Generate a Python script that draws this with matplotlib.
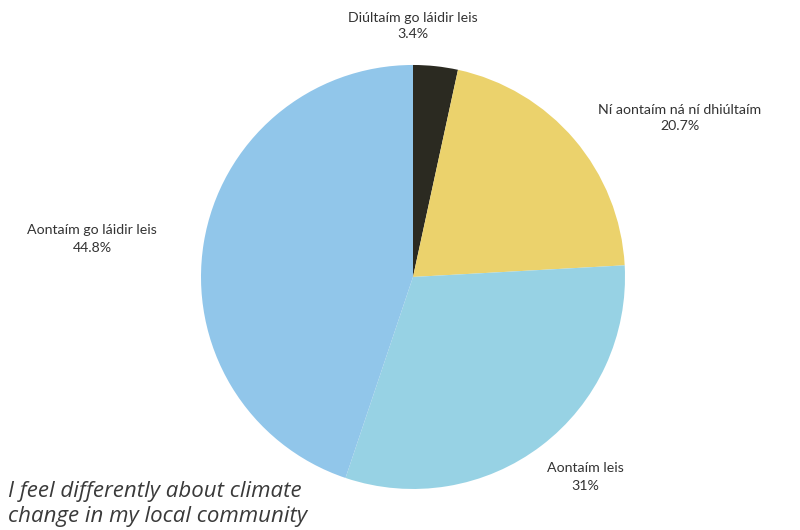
import matplotlib.pyplot as plt

# Survey answers (Irish), share in percent
labels = ['Diúltaím go láidir leis', 'Ní aontaím ná ní dhiúltaím', 'Aontaím leis', 'Aontaím go láidir leis']
shares = [3.4, 20.7, 31, 44.8]
share_text = ['3.4%', '20.7%', '31%', '44.8%']
colors = ['#2b2a21', '#ebd26c', '#97d2e4', '#91c6ea']

fig = plt.figure(figsize=(8, 5.3), dpi=100)
ax = fig.add_axes([0.25125, 0.0774, 0.53, 0.8])
ax.pie(shares, colors=colors, startangle=90, counterclock=False, radius=1,
       wedgeprops=dict(linewidth=0))
ax.set_xlim(-1, 1)
ax.set_ylim(-1, 1)
ax.set_aspect('equal')
ax.axis('off')

# label positions in figure pixels (x, y from top)
label_pos = [(413, 26), (680, 118), (585, 477), (92, 239)]
for (x, y), name, pct in zip(label_pos, labels, share_text):
    fig.text(x / 800, 1 - y / 530, name + '\n' + pct, ha='center', va='center',
             fontsize=10.2, color='#333333', family='Lato', linespacing=1.5)

fig.text(8 / 800, 1 - 504 / 530, 'I feel differently about climate\nchange in my local community',
         ha='left', va='center', fontsize=16, style='italic', color='#3a3a3a',
         family='Open Sans', linespacing=1.2)

fig.savefig('out.png', dpi=100)
